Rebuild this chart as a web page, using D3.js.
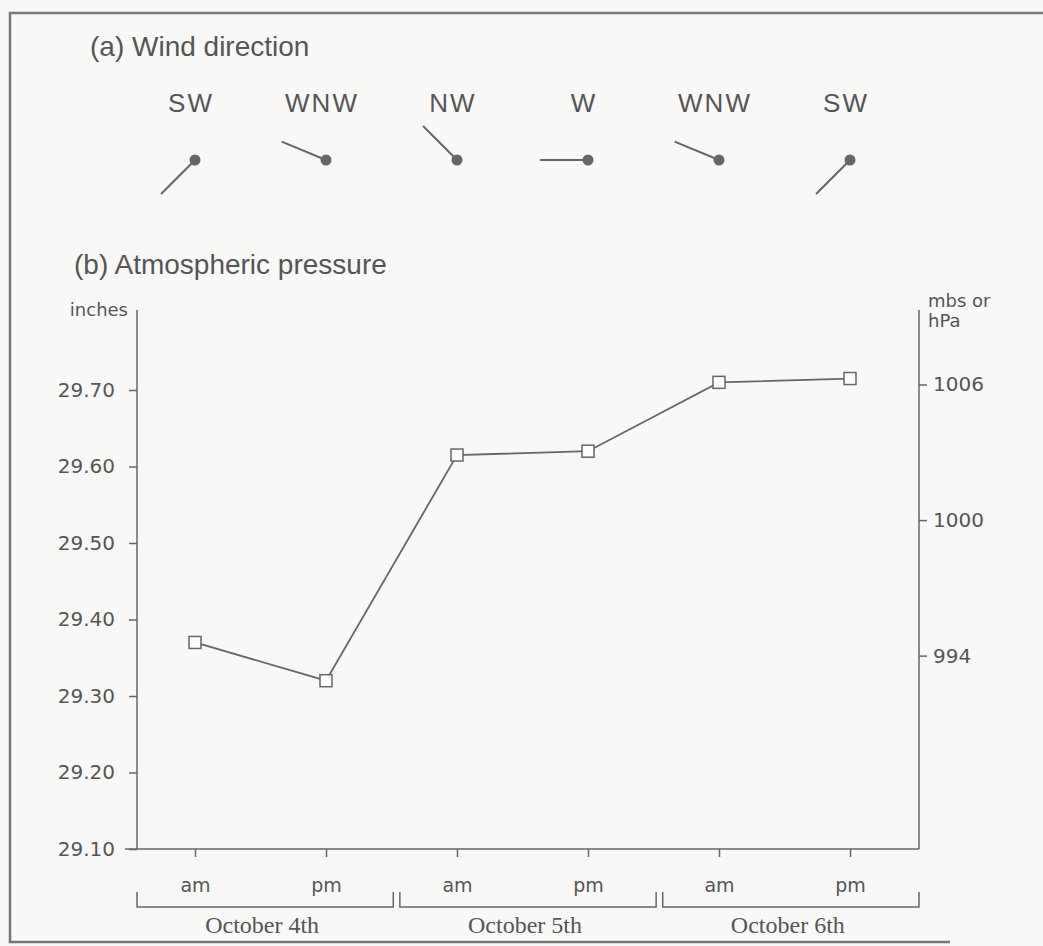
<!DOCTYPE html>
<html>
<head>
<meta charset="utf-8">
<script src="https://cdn.jsdelivr.net/npm/d3@7"></script>
<style>
  body { margin: 0; background: #f8f8f6; }
  svg { display: block; }
  text { fill: #555; font-family: "Liberation Sans", Arial, sans-serif; }
  .serif { font-family: "Liberation Serif", "Times New Roman", serif; }
  .wide, .tick text { font-family: "DejaVu Sans", Verdana, sans-serif; }
</style>
</head>
<body>
<div id="chart"></div>
<script>
// Data
const slots = ["4am", "4pm", "5am", "5pm", "6am", "6pm"];
const slotLabels = ["am", "pm", "am", "pm", "am", "pm"];
const days = ["October 4th", "October 5th", "October 6th"];
const windDir = ["SW", "WNW", "NW", "W", "WNW", "SW"];
const windDeg = [225, 292.5, 315, 270, 292.5, 225];
const pressureIn = [29.37, 29.32, 29.615, 29.62, 29.71, 29.715];
const inchTicks = [29.10, 29.20, 29.30, 29.40, 29.50, 29.60, 29.70];
const hpaTicks = [994, 1000, 1006];

const W = 1043, H = 946;
const plot = { left: 137, right: 919, top: 310, bottom: 849 };
const grey = "#666";

const svg = d3.select("#chart")
    .append("svg")
    .attr("width", W)
    .attr("height", H);

// paper frame (no right edge in the scan)
svg.append("path")
    .attr("d", `M1043,13 L10,13 L10,942 L950,942`)
    .attr("fill", "none")
    .attr("stroke", "#777")
    .attr("stroke-width", 2.5);

// Scales
const x = d3.scalePoint()
    .domain(slots)
    .range([195, 850]);

const xDay = d3.scaleBand()
    .domain(days)
    .range([plot.left, plot.right])
    .paddingInner(0.025);

const y = d3.scaleLinear()
    .domain([29.10, 29.70])
    .range([plot.bottom, 390]);

// 1 inHg = 33.8639 hPa
const yR = d3.scaleLinear()
    .domain(y.domain().map(v => v * 33.8639))
    .range(y.range());

// Titles
svg.append("text")
    .attr("x", 90).attr("y", 56)
    .attr("font-size", 28)
    .text("(a) Wind direction");

svg.append("text")
    .attr("x", 74).attr("y", 274)
    .attr("font-size", 28)
    .text("(b) Atmospheric pressure");

// Wind direction: label + dot + stick pointing to where the wind comes from
const windY = 160, stick = 48;
const wind = svg.append("g").attr("class", "wind");

windDir.forEach((d, i) => {
    const cx = x(slots[i]);
    const a = windDeg[i] * Math.PI / 180;
    wind.append("text")
        .attr("x", cx - 4).attr("y", 112)
        .attr("text-anchor", "middle")
        .attr("font-size", 26)
        .attr("letter-spacing", 2)
        .text(d);
    wind.append("line")
        .attr("x1", cx).attr("y1", windY)
        .attr("x2", cx + stick * Math.sin(a))
        .attr("y2", windY - stick * Math.cos(a))
        .attr("stroke", grey)
        .attr("stroke-width", 2);
    wind.append("circle")
        .attr("cx", cx).attr("cy", windY)
        .attr("r", 5.5)
        .attr("fill", grey);
});

// Axes
const leftAxis = svg.append("g")
    .attr("transform", `translate(${plot.left},0)`)
    .call(d3.axisLeft(y).tickValues(inchTicks).tickFormat(d3.format(".2f")).tickSize(8).tickPadding(14));

const rightAxis = svg.append("g")
    .attr("transform", `translate(${plot.right},0)`)
    .call(d3.axisRight(yR).tickValues(hpaTicks).tickFormat(d3.format("d")).tickSize(8).tickPadding(6));

const bottomAxis = svg.append("g")
    .attr("transform", `translate(0,${plot.bottom})`)
    .call(d3.axisBottom(x).tickFormat((d, i) => slotLabels[i]).tickSize(8).tickPadding(22));

[leftAxis, rightAxis, bottomAxis].forEach(g => {
    g.select(".domain").remove();
    g.selectAll(".tick line").attr("stroke", grey).attr("stroke-width", 1.5);
    g.selectAll(".tick text").attr("fill", "#555");
});
leftAxis.selectAll(".tick text").style("font-size", "20px");
rightAxis.selectAll(".tick text").style("font-size", "20px");
bottomAxis.selectAll(".tick text").style("font-size", "19px");

// axis lines
svg.append("line")
    .attr("x1", plot.left).attr("x2", plot.left)
    .attr("y1", plot.top).attr("y2", plot.bottom)
    .attr("stroke", grey).attr("stroke-width", 1.5);
svg.append("line")
    .attr("x1", plot.right).attr("x2", plot.right)
    .attr("y1", plot.top).attr("y2", plot.bottom)
    .attr("stroke", grey).attr("stroke-width", 1.5);
svg.append("line")
    .attr("x1", 125).attr("x2", plot.right)
    .attr("y1", plot.bottom).attr("y2", plot.bottom)
    .attr("stroke", grey).attr("stroke-width", 1.5);

// units
svg.append("text")
    .attr("class", "wide")
    .attr("x", 128).attr("y", 316)
    .attr("text-anchor", "end")
    .attr("font-size", 18)
    .text("inches");
svg.append("text")
    .attr("class", "wide")
    .attr("x", 928).attr("y", 307)
    .attr("font-size", 18)
    .text("mbs or");
svg.append("text")
    .attr("class", "wide")
    .attr("x", 928).attr("y", 327)
    .attr("font-size", 18)
    .text("hPa");

// day brackets
const brk = svg.append("g");
days.forEach(d => {
    const x0 = xDay(d), x1 = xDay(d) + xDay.bandwidth();
    brk.append("path")
        .attr("d", `M${x0},892 L${x0},907 L${x1},907 L${x1},892`)
        .attr("fill", "none")
        .attr("stroke", grey)
        .attr("stroke-width", 1.5);
    brk.append("text")
        .attr("class", "serif")
        .attr("x", (x0 + x1) / 2 - 3).attr("y", 933)
        .attr("text-anchor", "middle")
        .attr("font-size", 24)
        .text(d);
});

// pressure line
const line = d3.line()
    .x((d, i) => x(slots[i]))
    .y(d => y(d));

svg.append("path")
    .datum(pressureIn)
    .attr("d", line)
    .attr("fill", "none")
    .attr("stroke", grey)
    .attr("stroke-width", 1.8);

svg.selectAll("rect.pt")
    .data(pressureIn)
    .enter()
    .append("rect")
    .attr("class", "pt")
    .attr("x", (d, i) => x(slots[i]) - 6)
    .attr("y", d => y(d) - 6)
    .attr("width", 12)
    .attr("height", 12)
    .attr("fill", "#fdfdfb")
    .attr("stroke", grey)
    .attr("stroke-width", 1.5);
</script>
</body>
</html>
